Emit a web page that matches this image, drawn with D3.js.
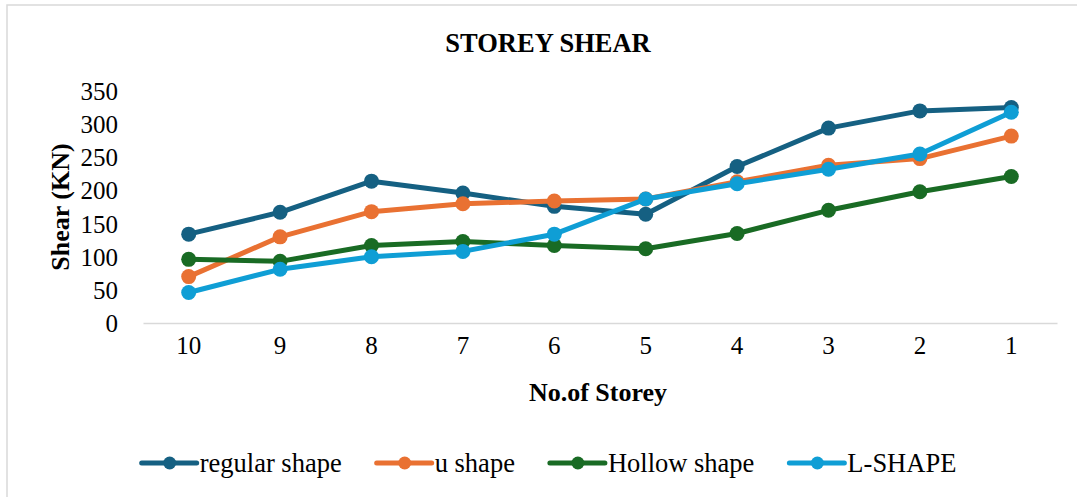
<!DOCTYPE html>
<html>
<head>
<meta charset="utf-8">
<script src="https://cdn.jsdelivr.net/npm/d3@7"></script>
<style>
  body { margin: 0; background: #fff; }
  text { font-family: "Liberation Serif", "Times New Roman", serif; fill: #000; }
</style>
</head>
<body>
<script>
// data
var storeys = ["10", "9", "8", "7", "6", "5", "4", "3", "2", "1"];
var regularShape = [134, 167, 214, 196, 176, 164, 236, 294, 320, 325];
var uShape = [70, 130, 168, 180, 184, 187, 213, 238, 248, 282];
var hollowShape = [96, 93, 117, 123, 117, 112, 135, 170, 198, 221];
var lShape = [46, 81, 100, 108, 134, 187, 210, 232, 255, 318];
var yTicks = [0, 50, 100, 150, 200, 250, 300, 350];

var seriesNames = ["regular shape", "u shape", "Hollow shape", "L-SHAPE"];
var seriesColors = ["#156082", "#E97132", "#196B24", "#0F9ED5"];
var seriesValues = [regularShape, uShape, hollowShape, lShape];

var W = 1077, H = 497;
var margin = { top: 91, right: 20, bottom: 174, left: 143 },
    width = 1057 - margin.left,
    height = 323 - margin.top;

var svg = d3.select("body").append("svg")
    .attr("width", W)
    .attr("height", H);

// chart border
svg.append("rect")
    .attr("x", 7).attr("y", 5)
    .attr("width", W + 10).attr("height", H + 10)
    .attr("fill", "#fff")
    .attr("stroke", "#d9d9d9")
    .attr("stroke-width", 1.5);

var g = svg.append("g")
    .attr("transform", "translate(" + margin.left + "," + margin.top + ")");

var x = d3.scaleBand().domain(storeys).range([0, width]);
var y = d3.scaleLinear().domain([0, 350]).range([height, 0]);

// y axis (labels only)
var yAxis = g.append("g")
    .call(d3.axisLeft(y).tickValues(yTicks).tickSize(0).tickPadding(25));
yAxis.select(".domain").remove();
yAxis.selectAll("text")
    .style("font-size", "25px")
    .attr("dy", "0.34em");

// x axis
var xAxis = g.append("g")
    .attr("transform", "translate(0," + height + ")")
    .call(d3.axisBottom(x).tickSize(0).tickPadding(13));
xAxis.select(".domain")
    .attr("stroke", "#d9d9d9")
    .attr("stroke-width", 1.5);
xAxis.selectAll("text")
    .style("font-size", "25px");

// series
var line = d3.line()
    .x(function (d, i) { return x(storeys[i]) + x.bandwidth() / 2; })
    .y(function (d) { return y(d); });

seriesValues.forEach(function (vals, k) {
    g.append("path")
        .datum(vals)
        .attr("fill", "none")
        .attr("stroke", seriesColors[k])
        .attr("stroke-width", 5)
        .attr("stroke-linejoin", "round")
        .attr("d", line);
    g.selectAll(".dot" + k)
        .data(vals)
        .enter()
        .append("circle")
        .attr("r", 7.5)
        .attr("cx", function (d, i) { return x(storeys[i]) + x.bandwidth() / 2; })
        .attr("cy", function (d) { return y(d); })
        .attr("fill", seriesColors[k]);
});

// titles
svg.append("text")
    .attr("x", 548).attr("y", 52)
    .attr("text-anchor", "middle")
    .style("font-size", "26.5px")
    .style("font-weight", "bold")
    .text("STOREY SHEAR");

svg.append("text")
    .attr("x", 598).attr("y", 401)
    .attr("text-anchor", "middle")
    .style("font-size", "26px")
    .style("font-weight", "bold")
    .text("No.of Storey");

svg.append("text")
    .attr("transform", "translate(69,207) rotate(-90)")
    .attr("text-anchor", "middle")
    .style("font-size", "26px")
    .style("font-weight", "bold")
    .text("Shear (KN)");

// legend
var legend = svg.append("g");
var lx = 0;
seriesNames.forEach(function (name, k) {
    var item = legend.append("g").attr("transform", "translate(" + lx + ",0)");
    item.append("line")
        .attr("x1", 0).attr("x2", 55)
        .attr("y1", 0).attr("y2", 0)
        .attr("stroke", seriesColors[k])
        .attr("stroke-width", 5)
        .attr("stroke-linecap", "round");
    item.append("circle")
        .attr("cx", 28).attr("cy", 0).attr("r", 6.5)
        .attr("fill", seriesColors[k]);
    var t = item.append("text")
        .attr("x", 58).attr("y", 9)
        .style("font-size", "26.5px")
        .text(name);
    lx += 58 + t.node().getComputedTextLength() + 35;
});
var legendW = lx - 35;
legend.attr("transform", "translate(" + (549 - legendW / 2) + ",463)");
</script>
</body>
</html>
